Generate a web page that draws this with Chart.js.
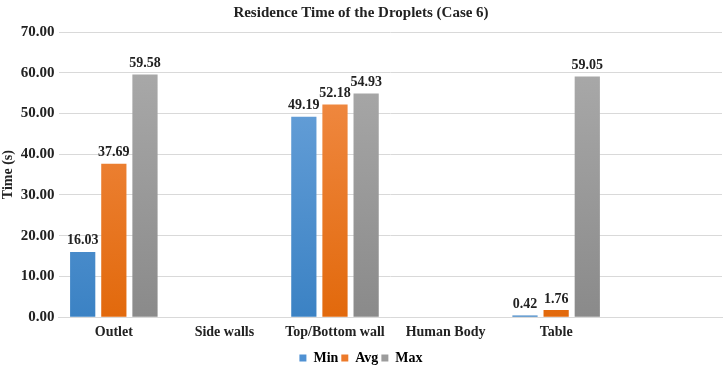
<!DOCTYPE html>
<html>
<head>
<meta charset="utf-8">
<script src="https://cdn.jsdelivr.net/npm/chart.js@4/dist/chart.umd.min.js"></script>
<style>
  html, body { margin: 0; padding: 0; background: #fff; }
</style>
</head>
<body>
<canvas id="myChart" width="725" height="366"></canvas>
<script>
var categories = ['Outlet', 'Side walls', 'Top/Bottom wall', 'Human Body', 'Table', ''];
var minTimes = [16.03, null, 49.19, null, 0.42, null];
var avgTimes = [37.69, null, 52.18, null, 1.76, null];
var maxTimes = [59.58, null, 54.93, null, 59.05, null];

var font = "'Liberation Serif', 'Times New Roman', serif";

function grad(top, bottom) {
    return function (c) {
        var area = c.chart.chartArea;
        if (!area) return bottom;
        var g = c.chart.ctx.createLinearGradient(0, area.top, 0, area.bottom);
        g.addColorStop(0, top);
        g.addColorStop(1, bottom);
        return g;
    };
}

// draws the value over each bar
var valueLabels = {
    id: 'valueLabels',
    afterDatasetsDraw: function (chart) {
        var ctx = chart.ctx;
        ctx.save();
        ctx.font = 'bold 14px ' + font;
        ctx.fillStyle = '#222';
        ctx.textAlign = 'center';
        ctx.textBaseline = 'bottom';
        chart.data.datasets.forEach(function (ds, i) {
            chart.getDatasetMeta(i).data.forEach(function (bar, j) {
                if (ds.data[j] == null) return;
                ctx.fillText(ds.data[j].toFixed(2), bar.x, bar.y - 4);
            });
        });
        ctx.restore();
    }
};

var ctx = document.getElementById('myChart').getContext('2d');
var chart = new Chart(ctx, {
    type: 'bar',
    data: {
        labels: categories,
        datasets: [
            { label: 'Min', data: minTimes, backgroundColor: grad('#71a7dd', '#3b82c4'), legendColor: '#4f91d3' },
            { label: 'Avg', data: avgTimes, backgroundColor: grad('#f3914f', '#e2690c'), legendColor: '#ed7a2a' },
            { label: 'Max', data: maxTimes, backgroundColor: grad('#adadad', '#8a8a8a'), legendColor: '#9c9c9c' }
        ]
    },
    options: {
        responsive: false,
        animation: false,
        layout: { padding: { left: 0, right: 3, top: 4, bottom: -9 } },
        datasets: { bar: { categoryPercentage: 0.845, barPercentage: 0.81 } },
        plugins: {
            title: {
                display: true,
                text: 'Residence Time of the Droplets (Case 6)',
                color: '#222',
                font: { family: font, size: 15, weight: 'bold' },
                padding: { top: 0, bottom: 10 }
            },
            legend: {
                position: 'bottom',
                labels: {
                    color: '#222',
                    font: { family: font, size: 14, weight: 'bold' },
                    boxWidth: 7,
                    boxHeight: 7,
                    padding: 3,
                    generateLabels: function (chart) {
                        return chart.data.datasets.map(function (ds, i) {
                            return {
                                text: ds.label,
                                fillStyle: ds.legendColor,
                                strokeStyle: ds.legendColor,
                                lineWidth: 0,
                                datasetIndex: i
                            };
                        });
                    }
                }
            },
            tooltip: { enabled: false }
        },
        scales: {
            x: {
                grid: { display: false, drawTicks: false },
                border: { color: '#d9d9d9' },
                ticks: {
                    color: '#222',
                    font: { family: font, size: 14, weight: 'bold' },
                    maxRotation: 0,
                    autoSkip: false,
                    padding: 7
                }
            },
            y: {
                min: 0,
                max: 70,
                ticks: {
                    stepSize: 10,
                    color: '#222',
                    font: { family: font, size: 15, weight: 'bold' },
                    padding: 4,
                    callback: function (v) { return v.toFixed(2); }
                },
                grid: { color: '#d9d9d9', drawTicks: false },
                border: { display: false },
                title: {
                    display: true,
                    text: 'Time (s)',
                    color: '#222',
                    font: { family: font, size: 14, weight: 'bold' },
                    padding: { top: 0, bottom: 0 }
                }
            }
        }
    },
    plugins: [valueLabels]
});
</script>
</body>
</html>
